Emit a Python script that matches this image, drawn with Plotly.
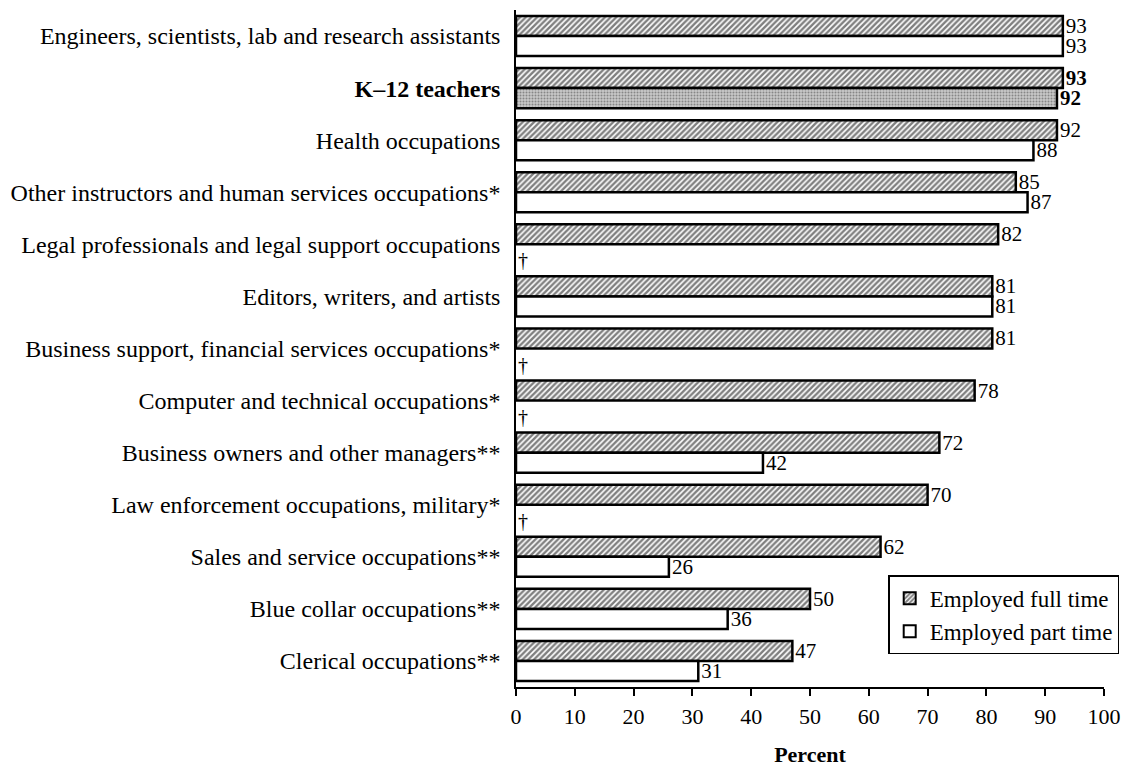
import plotly.graph_objects as go

categories = [
    "Engineers, scientists, lab and research assistants",
    "<b>K\u201312 teachers</b>",
    "Health occupations",
    "Other instructors and human services occupations*",
    "Legal professionals and legal support occupations",
    "Editors, writers, and artists",
    "Business support, financial services occupations*",
    "Computer and technical occupations*",
    "Business owners and other managers**",
    "Law enforcement occupations, military*",
    "Sales and service occupations**",
    "Blue collar occupations**",
    "Clerical occupations**",
]
full_time = [93, 93, 92, 85, 82, 81, 81, 78, 72, 70, 62, 50, 47]
part_time = [93, 92, 88, 87, None, 81, None, None, 42, None, 26, 36, 31]

highlight = 1  # K-12 teachers row

FONT = "Liberation Serif, Times New Roman, serif"


def labels(vals):
    out = []
    for i, v in enumerate(vals):
        if v is None:
            out.append("")
        elif i == highlight:
            out.append(f"<b>{v}</b>")
        else:
            out.append(str(v))
    return out


pt_color = ["#c8c8c8" if i == highlight else "white" for i in range(len(categories))]
pt_shape = ["." if i == highlight else "" for i in range(len(categories))]

fig = go.Figure()

fig.add_trace(go.Bar(
    y=categories, x=full_time, orientation="h",
    name="Employed full time",
    text=labels(full_time), textposition="outside", cliponaxis=False,
    constraintext="none",
    textfont=dict(family=FONT, size=21, color="black"),
    marker=dict(
        color="white",
        line=dict(color="black", width=2.5),
        pattern=dict(shape="/", fgcolor="black", bgcolor="white", size=4, solidity=0.6),
    ),
))

fig.add_trace(go.Bar(
    y=categories, x=part_time, orientation="h",
    name="Employed part time",
    text=labels(part_time), textposition="outside", cliponaxis=False,
    constraintext="none",
    textfont=dict(family=FONT, size=21, color="black"),
    marker=dict(
        color=pt_color,
        line=dict(color="black", width=2.5),
        pattern=dict(shape=pt_shape, fgcolor="#707070", bgcolor=pt_color, size=3, solidity=0.35),
    ),
))

# dagger marks for suppressed part-time estimates
for cat, v in zip(categories, part_time):
    if v is None:
        fig.add_annotation(
            x=0, y=cat, text="\u2020", showarrow=False,
            xanchor="left", xshift=0, yshift=-16,
            font=dict(family=FONT, size=20, color="black"),
        )

fig.update_layout(
    width=1113, height=759,
    paper_bgcolor="white", plot_bgcolor="white",
    margin=dict(l=508, r=17, t=2, b=80),
    barmode="group", bargap=0.23, bargroupgap=0,
    font=dict(family=FONT, size=22, color="black"),
    showlegend=True,
    legend=dict(
        x=0.633, y=0.165, xanchor="left", yanchor="top",
        bordercolor="black", borderwidth=1.5, bgcolor="white",
        font=dict(family=FONT, size=23, color="black"),
        itemsizing="constant", itemwidth=30,
    ),
)

fig.update_xaxes(
    range=[0, 100], dtick=10, tick0=0,
    showgrid=False, zeroline=False, automargin=False,
    showline=True, linecolor="black", linewidth=1.5,
    ticks="outside", ticklen=7, tickcolor="black", tickwidth=1.5,
    ticklabelstandoff=2, ticklabeloverflow="allow",
    tickfont=dict(family=FONT, size=22, color="black"),
    title=dict(text="<b>Percent</b>", font=dict(family=FONT, size=22, color="black"), standoff=23),
)

fig.update_yaxes(
    autorange="reversed",
    showgrid=False, zeroline=False,
    showline=True, linecolor="black", linewidth=1.5,
    ticks="", ticklabelstandoff=9,
    tickfont=dict(family=FONT, size=24, color="black"),
)

fig.write_html("out.html")
